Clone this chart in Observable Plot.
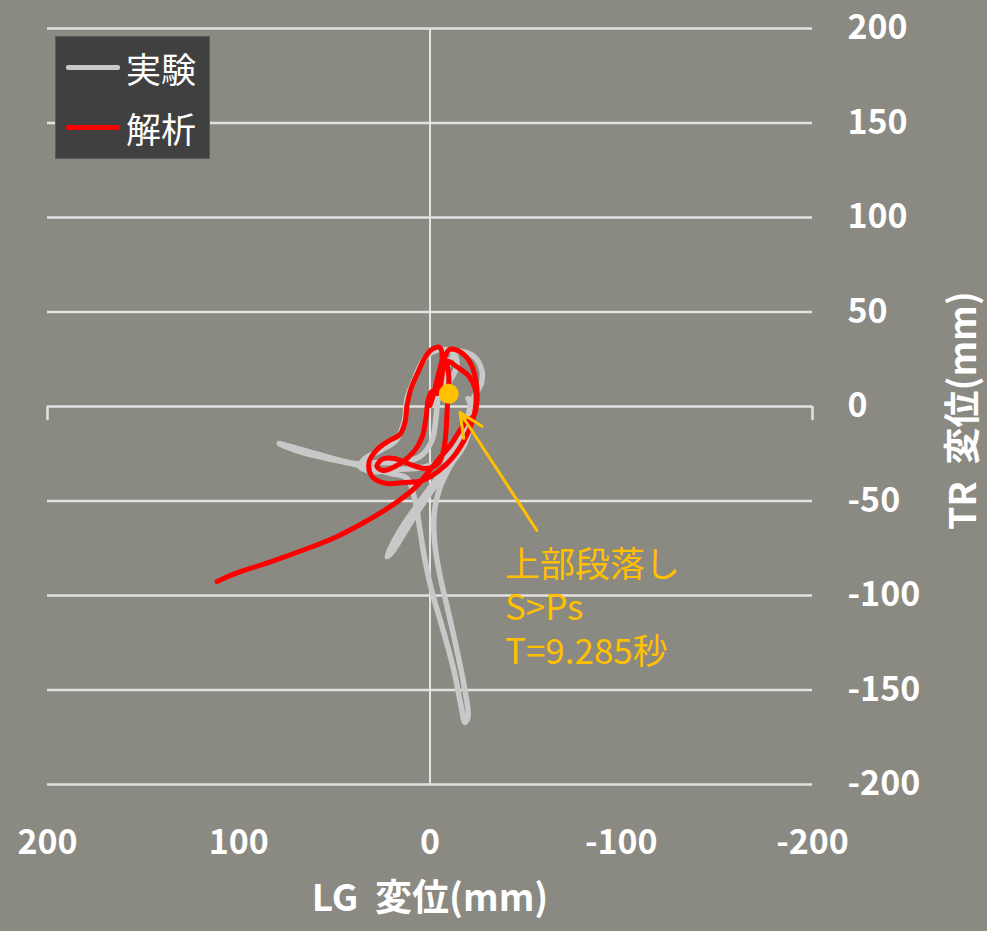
<!DOCTYPE html>
<html>
<head>
<meta charset="utf-8">
<script src="https://cdn.jsdelivr.net/npm/d3@7"></script>
<script src="https://cdn.jsdelivr.net/npm/@observablehq/plot@0.6"></script>
<style>
  html, body { margin: 0; padding: 0; background: #8a8982; }
  #wrap { position: relative; width: 987px; height: 931px; }
  #legend {
    position: absolute; left: 55px; top: 36px; width: 153px; height: 121px;
    background: #404040; border: 1px solid #5c5c58;
    font-family: "Noto Sans CJK JP", sans-serif; color: #ffffff; font-size: 35px;
  }
  .row { position: absolute; left: 0; height: 40px; display: flex; align-items: center; }
  .swatch { width: 54px; height: 5px; border-radius: 2px; margin-left: 10px; margin-right: 6px; }
</style>
</head>
<body>
<div id="wrap"><div id="chart"></div><div id="legend"></div></div>
<script>
// Axis ticks (LG axis runs from +200 on the left to -200 on the right)
const xTicks = [200, 100, 0, -100, -200];
const yTicks = [200, 150, 100, 50, 0, -50, -100, -150, -200];

// Series names
const seriesNames = ["実験", "解析"];
const seriesColors = ["#c8c8c8", "#ff0000"];

// 実験: measured LG / TR displacement trajectory (mm)
const experimentX = [-1.0, -4.2, -10.5, -14.1, -12.5, -7.3, -1.0, 4.2, 8.4, 12.0, 13.6, 17.8, 26.1, 34.0, 36.6,
  30.3, 17.2, 4.2, -7.3, -15.2, -19.3, -22.0, -27.0, -26.5, -21.5, -14.6, -10.5, -7.3, -4.2, -3.1, -1.0, 5.2,
  15.7, 27.7, 39.2, 56.5, 69.5, 78.9, 66.9, 48.6, 34.5, 20.9, 12.0, 7.8, 5.2, 2.6, -1.0, -6.3, -12.5, -16.2,
  -18.3, -19.9, -17.8, -14.1, -9.4, -5.2, -2.6, -2.1, -4.7, -9.9, -15.7, -18.3, -12.5, -3.7, 6.8, 15.7, 22.5,
  19.9, 9.4, -1.0, -10.5, -17.8, -20.9, -22.0, -19.9];
const experimentY = [1.1, 5.8, 13.8, 21.7, 28.0, 30.2, 28.6, 23.3, 13.8, 4.2, -8.5, -18.0, -23.3, -27.5, -31.7,
  -34.4, -33.3, -32.3, -28.0, -19.0, -7.4, 3.2, 12.7, 21.2, 27.5, 29.0, 24.3, 14.8, 4.2, -6.3, -18.0, -26.5,
  -29.6, -29.6, -30.2, -25.9, -22.2, -19.6, -24.3, -28.6, -31.7, -35.4, -38.1, -49.7, -65.6, -81.5, -97.9,
  -116.4, -139.7, -158.2, -167.2, -164.0, -147.6, -129.1, -107.9, -89.4, -73.5, -57.7, -44.4, -32.8, -23.3,
  -18.0, -27.5, -38.1, -52.4, -65.6, -79.4, -77.2, -60.3, -44.4, -31.2, -20.6, -11.6, -2.1, 4.2];

// 解析: analysed trajectory (mm)
const analysisX = [0.0, -2.1, -4.2, -6.3, -5.2, -1.0, 2.6, 6.3, 9.9, 12.0, 13.1, 15.7, 22.0, 28.2, 31.9, 30.3,
  23.0, 13.6, 4.2, -4.2, -11.5, -17.8, -22.0, -24.0, -23.6, -20.4, -14.6, -9.4, -9.9, -9.4, -8.9, -8.4, -7.3,
  -4.7, 2.1, 11.5, 18.8, 25.1, 27.7, 24.6, 15.7, 8.4, 4.2, 2.1, 1.0, -1.0, -4.2, -6.3, -7.8, -10.5, -16.2,
  -21.0, -24.0, -24.6, -23.0, -18.3, -10.5, -2.6, 7.8, 21.4, 35.5, 49.7, 66.9, 84.2, 101.9, 111.3];
const analysisY = [0.5, 7.4, 16.4, 25.4, 31.2, 30.2, 25.9, 18.0, 9.5, 0.5, -8.5, -14.8, -18.5, -23.3, -29.6,
  -37.0, -40.7, -40.2, -39.2, -34.4, -27.5, -18.0, -8.5, 1.1, 9.5, 15.9, 20.6, 23.8, 14.8, 5.8, -3.2, -12.7,
  -22.2, -29.6, -32.8, -30.2, -27.5, -28.0, -31.7, -33.9, -30.2, -23.8, -16.4, -6.3, 3.2, 7.9, 6.9, 16.4,
  26.5, 30.2, 28.6, 23.3, 13.8, 4.2, -4.8, -9.0, -20.6, -30.2, -42.9, -53.4, -61.9, -69.3, -76.2, -82.5,
  -88.4, -92.6];

// Event marker and its note
const eventPoint = [-9.8, 6.7];
const arrowFrom = [-55.9, -65.6];
const arrowTo = [-15.7, -3.2];
const noteLines = ["上部段落し", "S>Ps", "T=9.285秒"];
const noteAt = [-39.2, -105.8];

// Axis titles
const xTitle = "LG  変位(mm)";
const yTitle = "TR  変位(mm)";

const experiment = experimentX.map((x, i) => ({x, y: experimentY[i]}));
const analysis = analysisX.map((x, i) => ({x, y: analysisY[i]}));

const gold = "#FFC000";
const gridColor = "#e2e2e0";
const boldFont = "'Noto Sans CJK JP', sans-serif";

const chart = Plot.plot({
  width: 987,
  height: 931,
  marginLeft: 47,
  marginRight: 175,
  marginTop: 28,
  marginBottom: 147,
  x: {domain: [200, -200], axis: null},
  y: {domain: [-200, 200], axis: null},
  style: {background: "#8a8982", fontFamily: "'Noto Sans CJK JP', sans-serif"},
  marks: [
    Plot.ruleY(yTicks, {stroke: gridColor, strokeWidth: 2.5}),
    Plot.ruleX([0], {stroke: gridColor, strokeWidth: 2}),
    Plot.ruleX([xTicks[0], xTicks[xTicks.length - 1]], {y1: 0, y2: -7.5, stroke: gridColor, strokeWidth: 2.5}),
    Plot.line(experiment, {x: "x", y: "y", stroke: seriesColors[0], strokeWidth: 5.5, curve: "catmull-rom", strokeLinejoin: "round", strokeLinecap: "round"}),
    Plot.line(analysis, {x: "x", y: "y", stroke: seriesColors[1], strokeWidth: 5, curve: "catmull-rom", strokeLinejoin: "round", strokeLinecap: "round"}),
    Plot.dot([eventPoint], {x: d => d[0], y: d => d[1], r: 10, fill: gold, stroke: null}),
    Plot.arrow([{x1: arrowFrom[0], y1: arrowFrom[1], x2: arrowTo[0], y2: arrowTo[1]}],
      {x1: "x1", y1: "y1", x2: "x2", y2: "y2", stroke: gold, strokeWidth: 3, headLength: 13, headAngle: 50}),
    Plot.text([noteLines.join("\n")], {x: noteAt[0], y: noteAt[1], textAnchor: "start", lineAnchor: "middle",
      fontSize: 35, lineHeight: 1.24, fill: gold, ariaLabel: "note"}),
    // tick labels
    Plot.text(yTicks, {x: xTicks[xTicks.length - 1], y: d => d, text: d => String(d), textAnchor: "start",
      dx: 35, fill: "#ffffff", fontSize: 34, fontWeight: "bold", fontFamily: boldFont, ariaLabel: "tick-label"}),
    Plot.text(xTicks, {x: d => d, y: yTicks[yTicks.length - 1], text: d => String(d), textAnchor: "middle",
      dy: 59, fill: "#ffffff", fontSize: 34, fontWeight: "bold", fontFamily: boldFont, ariaLabel: "tick-label"}),
    // axis titles
    Plot.text([xTitle], {frameAnchor: "bottom", dy: 126, fill: "#ffffff", fontSize: 37, fontWeight: "bold", fontFamily: boldFont}),
    Plot.text([yTitle], {frameAnchor: "right", textAnchor: "middle", dx: 152, dy: 4, rotate: -90, fill: "#ffffff", fontSize: 37, fontWeight: "bold", fontFamily: boldFont})
  ]
});
document.getElementById("chart").appendChild(chart);

// Tick labels use a tall, condensed look: stretch them vertically about their anchor
chart.querySelectorAll('g[aria-label="tick-label"] text').forEach(t => {
  const x = t.getAttribute("x"), y = t.getAttribute("y");
  let tr = t.getAttribute("transform") || "";
  if (x !== null || y !== null) {
    tr = `translate(${x || 0},${y || 0}) ` + tr;
    t.removeAttribute("x");
    t.removeAttribute("y");
  }
  t.setAttribute("transform", tr + " scale(1,1.18)");
});

// Light drop shadow behind the note text
chart.querySelectorAll('g[aria-label="note"]').forEach(g => {
  g.style.filter = "drop-shadow(1.5px 1.5px 0 #ffffff)";
});

// Legend box
const legend = document.getElementById("legend");
seriesNames.forEach((name, i) => {
  const row = document.createElement("div");
  row.className = "row";
  row.style.top = (10 + i * 60) + "px";
  const sw = document.createElement("span");
  sw.className = "swatch";
  sw.style.background = seriesColors[i];
  const label = document.createElement("span");
  label.textContent = name;
  row.appendChild(sw);
  row.appendChild(label);
  legend.appendChild(row);
});
</script>
</body>
</html>
